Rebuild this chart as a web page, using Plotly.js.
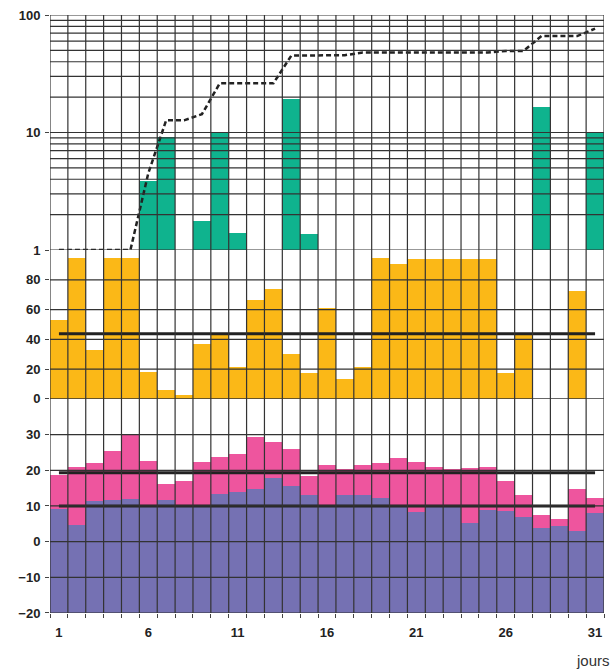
<!DOCTYPE html>
<html>
<head>
<meta charset="utf-8">
<script src="https://cdn.plot.ly/plotly-3.0.1.min.js"></script>
<style>html,body{margin:0;padding:0;background:#fff;}#chart{width:613px;height:670px;}</style>
</head>
<body>
<div id="chart"></div>
<script>
// ---- data ----
const days = [1,2,3,4,5,6,7,8,9,10,11,12,13,14,15,16,17,18,19,20,21,22,23,24,25,26,27,28,29,30,31];
const xTickVals = [1,6,11,16,21,26,31];
const xTickText = ['1','6','11','16','21','26','31'];

// top panel: daily rain (log scale) and cumulative rain
const rain = [null,null,null,null,null,3.9,9.1,null,1.77,10,1.39,null,null,19.3,1.36,
              null,null,null,null,null,null,null,null,null,null,null,null,16.4,null,null,10];
const rainCumul = [1,1,1,1,1,4.5,12.7,12.7,14.3,26.2,26.2,26.2,26.2,45.1,45.1,45.1,45.5,
                   48,48,48,48,48,48,48,48,49.5,49.5,66.2,66.2,66.2,76.5];

// middle panel
const humidity = [53,94.8,33,94.8,94.8,18.1,6,2.7,37,43.5,21.5,66.4,73.8,30.2,17.5,
                  61,13.4,21.5,94.8,90.6,94,94,94,94,94,17.5,43.6,null,null,72.5,null];
const humidityRef = 43.8;

// bottom panel
const tMax = [18.6,20.8,22.0,25.4,29.9,22.6,16.2,17.0,22.3,23.7,24.6,29.4,28.0,26.0,18.4,
              21.5,20.4,21.5,22.0,23.5,22.3,20.9,20.4,20.6,20.9,17.0,13.1,7.4,6.3,14.7,12.2];
const tMin = [9.1,4.6,11.4,11.7,11.9,10.3,11.7,10.3,10.3,13.3,13.9,14.7,17.8,15.6,13.1,
              10.2,13.1,13.1,12.2,9.9,8.3,10.1,10.1,5.2,8.8,8.5,6.9,3.8,4.4,3.0,8.0];
const tMaxRef = 19.3;
const tMinRef = 10.0;

// tick values
const topTicks = [1,10,100];
const topGrid = [1,2,3,4,5,6,7,8,9,10,20,30,40,50,60,70,80,90,100];
const midTicks = [0,20,40,60,80];
const botTicks = [-20,-10,0,10,20,30];
const tempFloor = -20;

// ---- styles ----
const GREEN = '#0fb38e', ORANGE = '#fbb817', PINK = '#ee559e', PURPLE = '#7571b3';
const GRID = '#333';
const GW = 1.2;
const tickFont = {family: 'Arial, "Liberation Sans", sans-serif', size: 13, color: '#222', weight: 'bold'};

const traces = [
  {type: 'bar', x: days, y: tMax.map(v => v - tempFloor), base: tempFloor, xaxis: 'x', yaxis: 'y',
   marker: {color: PINK, line: {width: 0}}, hoverinfo: 'skip'},
  {type: 'bar', x: days, y: tMin.map(v => v - tempFloor), base: tempFloor, xaxis: 'x', yaxis: 'y',
   marker: {color: PURPLE, line: {width: 0}}, hoverinfo: 'skip'},
  {type: 'scatter', mode: 'lines', x: [days[0], days[days.length-1]], y: [tMaxRef, tMaxRef], yaxis: 'y',
   line: {color: '#222', width: 3}},
  {type: 'scatter', mode: 'lines', x: [days[0], days[days.length-1]], y: [tMinRef, tMinRef], yaxis: 'y',
   line: {color: '#222', width: 3}},
  {type: 'bar', x: days, y: humidity, xaxis: 'x', yaxis: 'y2',
   marker: {color: ORANGE, line: {width: 0}}},
  {type: 'scatter', mode: 'lines', x: [days[0], days[days.length-1]], y: [humidityRef, humidityRef], yaxis: 'y2',
   line: {color: '#222', width: 3}},
  {type: 'bar', x: days, y: rain, xaxis: 'x', yaxis: 'y3',
   marker: {color: GREEN, line: {width: 0}}},
  {type: 'scatter', mode: 'lines', x: days, y: rainCumul, yaxis: 'y3',
   line: {color: '#222', width: 2.5, dash: '5px,3px'}}
];

// gridlines drawn above bars
const shapes = [];
for (let i = 0; i <= days.length; i++) {
  shapes.push({type: 'line', layer: 'above', xref: 'x', yref: 'paper', x0: i + 0.5, x1: i + 0.5, y0: 0, y1: 1,
               line: {color: GRID, width: GW}});
}
topGrid.forEach(v => shapes.push({type: 'line', layer: 'above', xref: 'paper', yref: 'y3', x0: 0, x1: 1,
  y0: v, y1: v, line: {color: GRID, width: GW}}));
midTicks.forEach(v => shapes.push({type: 'line', layer: 'above', xref: 'paper', yref: 'y2', x0: 0, x1: 1,
  y0: v, y1: v, line: {color: GRID, width: GW}}));
botTicks.forEach(v => shapes.push({type: 'line', layer: 'above', xref: 'paper', yref: 'y', x0: 0, x1: 1,
  y0: v, y1: v, line: {color: GRID, width: GW}}));

const layout = {
  width: 613, height: 670,
  margin: {l: 50, r: 9, t: 15, b: 57},
  paper_bgcolor: '#fff', plot_bgcolor: '#fff',
  showlegend: false,
  barmode: 'overlay', bargap: 0,
  font: {family: 'Arial, "Liberation Sans", sans-serif'},
  xaxis: {range: [0.5, 31.5], tickmode: 'array', tickvals: xTickVals, ticktext: xTickText,
          ticks: '', showgrid: false, zeroline: false, showline: false, tickfont: tickFont,
          ticklabelstandoff: 10, anchor: 'y',
          minor: {tickmode: 'linear', tick0: 0.5, dtick: 1, ticks: 'outside', ticklen: 4, tickcolor: '#444', tickwidth: 1, showgrid: false}},
  yaxis: {domain: [0, 0.358], range: [-20, 40], tickmode: 'array', tickvals: botTicks,
          showgrid: false, zeroline: false, showline: false, ticks: 'outside', ticklen: 4, tickcolor: '#444',
          tickfont: tickFont, ticklabelstandoff: 2},
  yaxis2: {domain: [0.358, 0.607], range: [0, 100], tickmode: 'array', tickvals: midTicks, anchor: 'x',
           showgrid: false, zeroline: false, showline: false, ticks: 'outside', ticklen: 4, tickcolor: '#444',
           tickfont: tickFont, ticklabelstandoff: 2},
  yaxis3: {domain: [0.607, 1], type: 'log', range: [0, 2], tickmode: 'array', tickvals: topTicks,
           ticktext: ['1','10','100'], anchor: 'x',
           showgrid: false, zeroline: false, showline: false, ticks: 'outside', ticklen: 4, tickcolor: '#444',
           tickfont: tickFont, ticklabelstandoff: 2},
  shapes: shapes,
  annotations: [
    {text: 'jours', xref: 'paper', yref: 'paper', x: 1, y: 0, xanchor: 'right', yanchor: 'middle', yshift: -47,
     xshift: 7, borderpad: 0, showarrow: false, font: {family: 'Arial, "Liberation Sans", sans-serif', size: 15, color: '#333'}}
  ]
};

Plotly.newPlot('chart', traces, layout, {displayModeBar: false, staticPlot: true});
</script>
</body>
</html>
